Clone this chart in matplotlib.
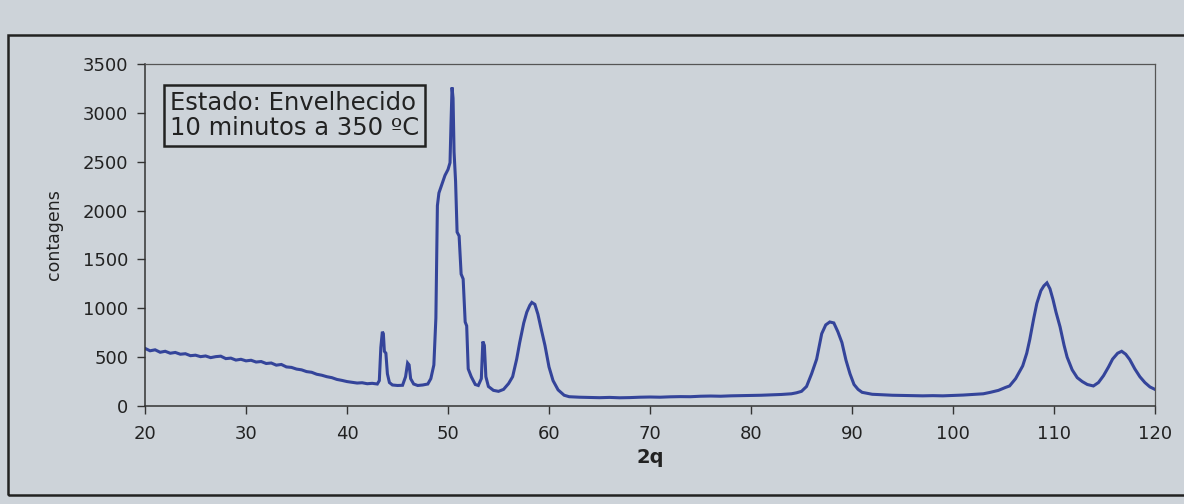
import matplotlib
matplotlib.use("Agg")
import matplotlib.pyplot as plt
from matplotlib.patches import Rectangle

# ---- data ----
two_theta = [20.0, 20.5, 21.0, 21.5, 22.0, 22.5, 23.0, 23.5, 24.0, 24.5, 25.0, 25.5, 26.0, 26.5,
             27.0, 27.5, 28.0, 28.5, 29.0, 29.5, 30.0, 30.5, 31.0, 31.5, 32.0, 32.5, 33.0, 33.5,
             34.0, 34.5, 35.0, 35.5, 36.0, 36.5, 37.0, 37.5, 38.0, 38.5, 39.0, 39.5, 40.0, 40.5,
             41.0, 41.5, 42.0, 42.5, 43.0, 43.2, 43.35, 43.5, 43.6, 43.7, 43.85, 44.0, 44.2, 44.5,
             45.0, 45.5, 45.8, 46.0, 46.15, 46.3, 46.6, 47.0, 47.5, 48.0, 48.3, 48.6, 48.8, 48.95,
             49.1, 49.4, 49.7, 50.0, 50.2, 50.3, 50.4, 50.5, 50.6, 50.75, 50.9, 51.1, 51.3, 51.5,
             51.7, 51.85, 52.0, 52.3, 52.7, 53.0, 53.3, 53.45, 53.6, 53.75, 54.0, 54.5, 55.0, 55.5,
             56.0, 56.4, 56.8, 57.1, 57.5, 57.8, 58.1, 58.3, 58.6, 58.9, 59.2, 59.6, 60.0, 60.4,
             60.9, 61.5, 62.0, 63.0, 64.0, 65.0, 66.0, 67.0, 68.0, 69.0, 70.0, 71.0, 72.0, 73.0,
             74.0, 75.0, 76.0, 77.0, 78.0, 79.0, 80.0, 81.0, 82.0, 83.0, 84.0, 84.5, 85.0, 85.5,
             86.0, 86.5, 87.0, 87.4, 87.8, 88.2, 88.6, 89.0, 89.4, 89.8, 90.2, 90.6, 91.0, 92.0,
             93.0, 94.0, 95.0, 96.0, 97.0, 98.0, 99.0, 100.0, 101.0, 102.0, 103.0, 103.7, 104.5,
             105.2, 105.6, 106.2, 106.9, 107.3, 107.6, 108.0, 108.3, 108.7, 109.0, 109.3, 109.6,
             109.9, 110.2, 110.6, 111.0, 111.3, 111.8, 112.3, 112.8, 113.3, 113.9, 114.4, 114.9,
             115.4, 115.8, 116.3, 116.7, 117.1, 117.5, 118.0, 118.5, 119.0, 119.5, 120.0]
counts = [590, 565, 575, 550, 560, 540, 548, 530, 535, 515, 520, 505, 512, 495,
          505, 510, 485, 490, 470, 478, 462, 468, 450, 455, 435, 440, 418, 425,
          400, 395, 378, 370, 352, 345, 325, 315, 300, 290, 272, 262, 250, 242,
          235, 238, 228, 232, 225, 260, 600, 760, 740, 560, 540, 330, 240, 215,
          210, 212, 300, 440, 420, 280, 225, 210, 215, 225, 280, 420, 900, 2050,
          2180, 2270, 2360, 2420, 2490, 2900, 3260, 3150, 2600, 2300, 1780, 1740, 1350, 1300,
          860, 820, 380, 300, 220, 210, 280, 660, 620, 300, 200, 160, 150, 170,
          230, 300, 480, 650, 850, 960, 1030, 1060, 1040, 940, 800, 620, 400, 260,
          165, 110, 95, 90, 88, 85, 88, 84, 86, 90, 92, 90, 94, 96,
          95, 100, 102, 100, 104, 106, 108, 110, 114, 118, 125, 135, 150, 200,
          330, 480, 740, 830, 860, 850, 760, 650, 470, 330, 220, 170, 140, 120,
          115, 110, 108, 105, 104, 106, 104, 108, 112, 118, 125, 140, 160,
          190, 205, 280, 410, 540, 680, 900, 1050, 1180, 1230, 1260, 1200,
          1090, 960, 810, 620, 500, 370, 290, 250, 220, 205, 240, 310,
          400, 480, 540, 560, 530, 475, 380, 300, 240, 195, 170]
x_ticks = [20, 30, 40, 50, 60, 70, 80, 90, 100, 110, 120]
y_ticks = [0, 500, 1000, 1500, 2000, 2500, 3000, 3500]
x_label = "2q"
y_label = "contagens"
box_text = "Estado: Envelhecido\n10 minutos a 350 ºC"

# ---- styling ----
bg = "#cdd3d9"
line_color = "#34449a"
plt.rcParams['font.family'] = ['DejaVu Sans']

W, H = 1184, 504
fig = plt.figure(figsize=(W / 100, H / 100), dpi=100, facecolor=bg)
ax_top, ax_bot = 64, 406
ax = fig.add_axes([145 / W, 1 - ax_bot / H, (1155 - 145) / W, (ax_bot - ax_top) / H])
ax.set_facecolor(bg)

ax.plot(two_theta, counts, color=line_color, lw=2.2, solid_joinstyle='miter')

ax.set_xlim(20, 120)
ax.set_ylim(0, 3500)
ax.set_xticks(x_ticks)
ax.set_yticks(y_ticks)
ax.tick_params(axis='both', direction='out', length=6, width=1, color='#333333',
               labelsize=13, labelcolor='#222222')
ax.tick_params(axis='x', pad=8)
ax.tick_params(axis='y', pad=6)

for side in ['left', 'bottom']:
    ax.spines[side].set_color('#333333')
    ax.spines[side].set_linewidth(1.1)
for side in ['top', 'right']:
    ax.spines[side].set_color('#555555')
    ax.spines[side].set_linewidth(0.9)

ax.set_xlabel(x_label, fontsize=14, fontweight='bold', color='#222222', labelpad=3)
ax.set_ylabel(y_label, fontsize=12.5, color='#222222', labelpad=14)

ax.text(0.0248, 1 - 27 / (ax_bot - ax_top), box_text, transform=ax.transAxes, fontsize=17.5,
        color='#222222', va='top', ha='left', linespacing=1.05,
        bbox=dict(boxstyle='square,pad=0.25', facecolor=bg, edgecolor='#222222', linewidth=1.8))

# outer frame (right border lies beyond the picture)
fig.patches.append(Rectangle((8 / W, 1 - 495 / H), (1200 - 8) / W, (495 - 35) / H,
                             transform=fig.transFigure, fill=False,
                             edgecolor='#222222', linewidth=1.8))

fig.savefig("out.png", dpi=100, facecolor=bg)
